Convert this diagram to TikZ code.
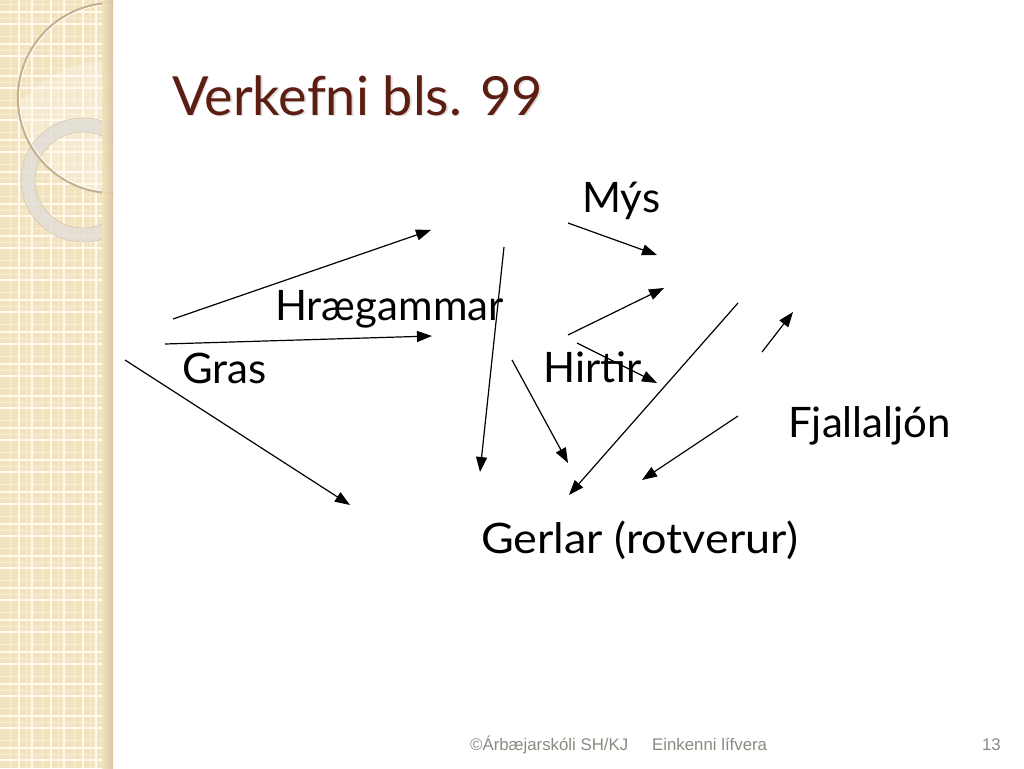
\documentclass[tikz,border=0pt]{standalone}
\usepackage{fontspec}
\setmainfont{Lato}
\newfontfamily\footfont{Liberation Sans}
\usetikzlibrary{arrows.meta}
\definecolor{titlered}{RGB}{92,30,18}
\definecolor{stripbase}{RGB}{242,226,190}
\definecolor{stripline}{RGB}{255,250,236}
\definecolor{stripdark}{RGB}{214,196,160}
\definecolor{ringtan}{RGB}{196,176,140}
\definecolor{ringgray}{RGB}{226,222,214}
\definecolor{footgray}{RGB}{140,138,128}
\tikzset{
  lbl/.style={anchor=base west,inner sep=0pt,font=\fontsize{42}{42}\selectfont},
  arr/.style={-{Triangle[length=15pt,width=11pt]},line width=1.2pt,black},
  foot/.style={anchor=base west,inner sep=0pt,text=footgray,font=\footfont\fontsize{16.8}{16.8}\selectfont}
}
\begin{document}
\begin{tikzpicture}[x=1pt,y=-1pt]
\useasboundingbox (0,0) rectangle (1024,768);
\fill[white] (0,0) rectangle (1024,768);
% left strip
\fill[stripbase] (0,0) rectangle (113,768);
\begin{scope}
\clip (0,0) rectangle (113,768);
\foreach \k in {0,...,24}{
  \draw[stripline,line width=0.4pt,opacity=0.5] (\k*32+10,0) -- (\k*32+10,768);
  \draw[stripline,line width=0.4pt,opacity=0.5] (0,\k*32+4) -- (113,\k*32+4);
  \draw[stripline,line width=0.4pt,opacity=0.5] (\k*32+26,0) -- (\k*32+26,768);
  \draw[stripline,line width=0.4pt,opacity=0.5] (0,\k*32+18) -- (113,\k*32+18);
  \draw[stripline,line width=1.6pt] (\k*32+19,0) -- (\k*32+19,768);
  \draw[stripline,line width=1.6pt] (\k*32+32,0) -- (\k*32+32,768);
  \draw[stripline,line width=1.6pt] (0,\k*32+12) -- (113,\k*32+12);
  \draw[stripline,line width=1.6pt] (0,\k*32+24) -- (113,\k*32+24);
}
% lighter sheen inside big circle
\fill[white,opacity=0.25] (113,98) ++(180:95) arc (180:90:95) -- (113,60) .. controls (70,60) and (40,80) .. (25,98) -- cycle;
% ring
\fill[ringgray,opacity=0.85,even odd rule] (83,180) circle (62) (83,180) circle (48);
\draw[ringtan!70,line width=0.6pt] (83,180) circle (62) (83,180) circle (48);
% big thin circle
\draw[ringtan,line width=2.2pt] (113,98) circle (95);
\draw[white,line width=0.8pt] (113,98) circle (93.5);
% right edge shadow
\shade[left color=stripbase,right color=stripdark,opacity=0.9] (102,0) rectangle (113,768);
\end{scope}
% title
\node[anchor=base west,inner sep=0pt,text=black,opacity=0.12,font=\fontsize{54}{54}\selectfont] at (173.5,116.5) {Verkefni bls. 99};
\node (title)[anchor=base west,inner sep=0pt,text=titlered,font=\fontsize{54}{54}\selectfont] at (172,115) {Verkefni bls. 99};
% labels
\node (mys)[lbl] at (582,212) {Mýs};
\node (hrae)[lbl] at (275,320) {Hrægammar};
\node (gras)[lbl] at (182,383) {Gras};
\node (hirtir)[lbl] at (543,382) {Hirtir};
\node (fjall)[lbl] at (788,437) {Fjallaljón};
\node (gerlar)[lbl] at (481,553) {\scalebox{1.07}[1]{Gerlar (rotverur)}};
% arrow endpoints
\coordinate (a1s) at (173,319); \coordinate (a1e) at (431,230);
\coordinate (a2s) at (165,344); \coordinate (a2e) at (432,336);
\coordinate (a3s) at (125,360); \coordinate (a3e) at (350,505);
\coordinate (a4s) at (504,247); \coordinate (a4e) at (480,472);
\coordinate (a5s) at (568,223); \coordinate (a5e) at (657,255);
\coordinate (a6s) at (568,335); \coordinate (a6e) at (664,288);
\coordinate (a7s) at (577,343); \coordinate (a7e) at (657,383);
\coordinate (a8s) at (512,360); \coordinate (a8e) at (568,463);
\coordinate (a9s) at (738,303); \coordinate (a9e) at (569,495);
\coordinate (a10s) at (762,352); \coordinate (a10e) at (793,312);
\coordinate (a11s) at (738,416); \coordinate (a11e) at (642,480);
\foreach \i in {1,...,11}{\draw[arr] (a\i s) -- (a\i e);}
% footer
\node (f1)[foot] at (470,750) {©Árbæjarskóli SH/KJ};
\node (f2)[foot] at (652,750) {Einkenni lífvera};
\node (f3)[foot,anchor=base east] at (1001,750) {13};
\end{tikzpicture}
\end{document}
